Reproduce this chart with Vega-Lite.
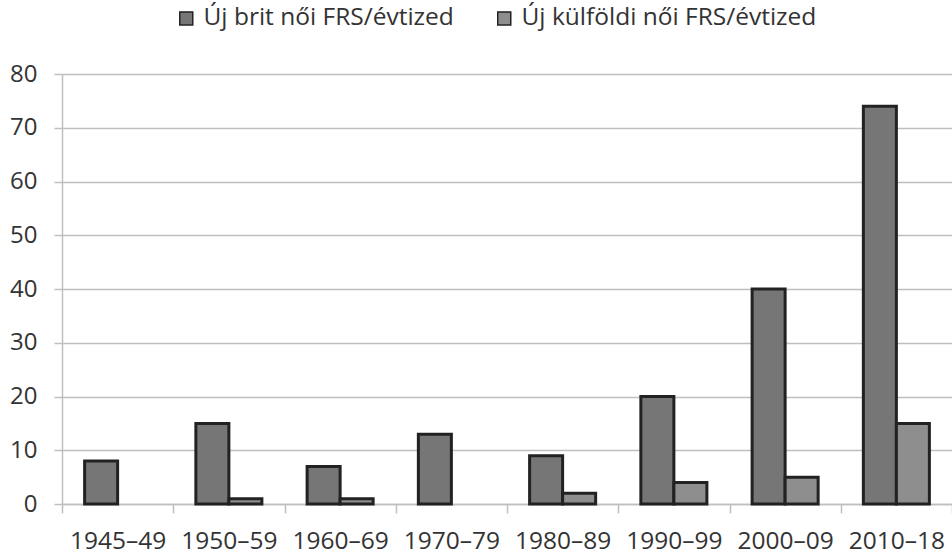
{
  "$schema": "https://vega.github.io/schema/vega-lite/v6.json",
  "width": 890,
  "height": 430,
  "autosize": {"type": "none"},
  "padding": {"left": 62, "top": 74, "right": 0, "bottom": 50},
  "background": "white",
  "config": {"view": {"stroke": null}, "font": "Open Sans"},
  "data": {
    "values": [
      {"period": "1945–49", "series": "Új brit női FRS/évtized", "value": 8},
      {"period": "1950–59", "series": "Új brit női FRS/évtized", "value": 15},
      {"period": "1950–59", "series": "Új külföldi női FRS/évtized", "value": 1},
      {"period": "1960–69", "series": "Új brit női FRS/évtized", "value": 7},
      {"period": "1960–69", "series": "Új külföldi női FRS/évtized", "value": 1},
      {"period": "1970–79", "series": "Új brit női FRS/évtized", "value": 13},
      {"period": "1980–89", "series": "Új brit női FRS/évtized", "value": 9},
      {"period": "1980–89", "series": "Új külföldi női FRS/évtized", "value": 2},
      {"period": "1990–99", "series": "Új brit női FRS/évtized", "value": 20},
      {"period": "1990–99", "series": "Új külföldi női FRS/évtized", "value": 4},
      {"period": "2000–09", "series": "Új brit női FRS/évtized", "value": 40},
      {"period": "2000–09", "series": "Új külföldi női FRS/évtized", "value": 5},
      {"period": "2010–18", "series": "Új brit női FRS/évtized", "value": 74},
      {"period": "2010–18", "series": "Új külföldi női FRS/évtized", "value": 15}
    ]
  },
  "mark": {"type": "bar", "stroke": "#222222", "strokeWidth": 3},
  "encoding": {
    "x": {
      "field": "period",
      "type": "nominal",
      "sort": null,
      "scale": {"paddingInner": 0, "paddingOuter": 0},
      "axis": {
        "title": null,
        "labelAngle": 0,
        "tickBand": "extent",
        "grid": false,
        "domainColor": "#bfbfbf",
        "domainWidth": 1.5,
        "tickColor": "#bfbfbf",
        "tickWidth": 1.5,
        "tickSize": 9,
        "labelFont": "Open Sans",
        "labelFontSize": 24.5,
        "labelColor": "#333333",
        "labelBaseline": "alphabetic",
        "labelPadding": 35,
        "labelLimit": 0
      }
    },
    "xOffset": {
      "field": "series",
      "type": "nominal",
      "scale": {
        "domain": ["Új brit női FRS/évtized", "Új külföldi női FRS/évtized"],
        "paddingInner": 0,
        "paddingOuter": 0.685
      }
    },
    "y": {
      "field": "value",
      "type": "quantitative",
      "scale": {"domain": [0, 80], "nice": false},
      "axis": {
        "title": null,
        "values": [0, 10, 20, 30, 40, 50, 60, 70, 80],
        "gridColor": "#bfbfbf",
        "gridWidth": 1.5,
        "domainColor": "#bfbfbf",
        "domainWidth": 1.5,
        "tickColor": "#bfbfbf",
        "tickWidth": 1.5,
        "tickSize": 8,
        "labelPadding": 17,
        "labelFont": "Open Sans",
        "labelFontSize": 24,
        "labelColor": "#333333"
      }
    },
    "fill": {
      "field": "series",
      "type": "nominal",
      "scale": {
        "domain": ["Új brit női FRS/évtized", "Új külföldi női FRS/évtized"],
        "range": ["#767676", "#8e8e8e"]
      },
      "legend": {
        "title": null,
        "orient": "none",
        "direction": "horizontal",
        "legendX": 112,
        "legendY": -68,
        "symbolType": "square",
        "symbolSize": 169,
        "symbolStrokeColor": "#222222",
        "symbolStrokeWidth": 1.5,
        "symbolOpacity": 1,
        "labelFont": "Open Sans",
        "labelFontSize": 24.5,
        "labelColor": "#333333",
        "labelOffset": 5,
        "labelLimit": 0,
        "columnPadding": 38
      }
    }
  }
}
